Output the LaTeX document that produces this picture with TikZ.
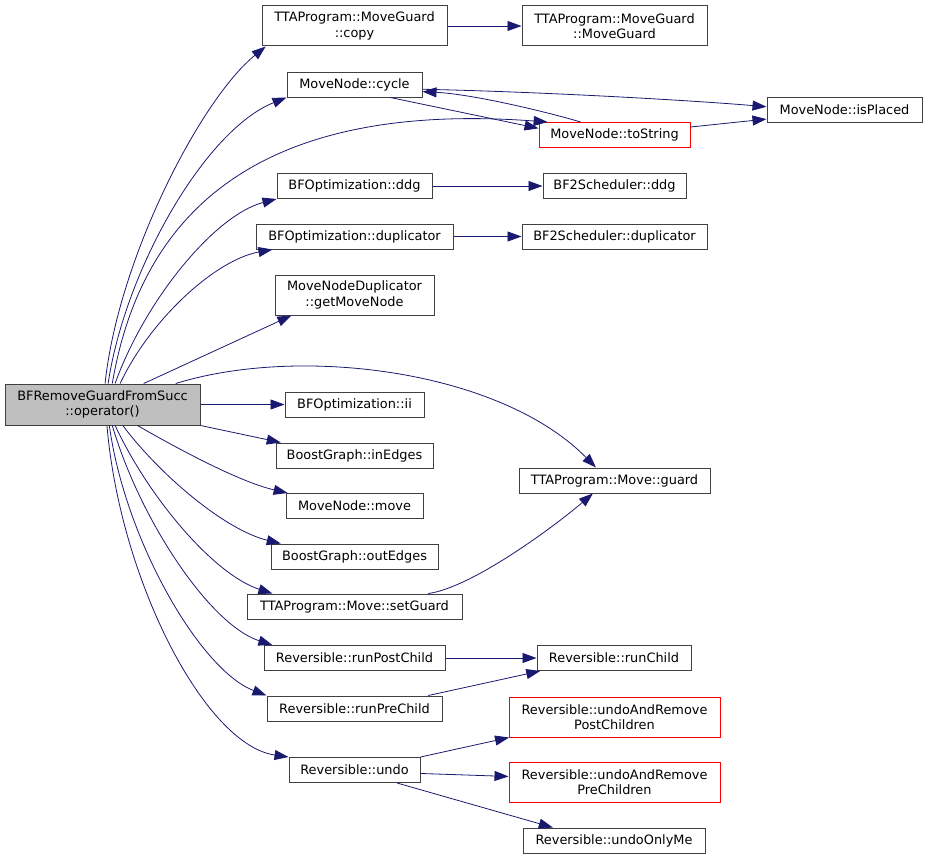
\documentclass[tikz,border=0pt]{standalone}
\usepackage{fontspec}
\setmainfont{DejaVu Sans}
\usetikzlibrary{arrows.meta}
\definecolor{callblue}{HTML}{191970}
\definecolor{boxline}{HTML}{404040}
\definecolor{boxred}{HTML}{FF0000}
\definecolor{boxfocus}{HTML}{BFBFBF}

\begin{document}
\begin{tikzpicture}[
  x=1pt,
  y=-1pt,
  every node/.style={font=\fontsize{12.9}{15.3}\selectfont, black},
  fn/.style={draw=boxline, fill=white, line width=1pt, inner sep=0pt,
             minimum height=25pt, align=center},
  fnred/.style={fn, draw=boxred},
  fnroot/.style={fn, fill=boxfocus},
  call/.style={callblue, line width=0.8pt, -{Triangle[length=14pt, width=10pt]}}
]
  \useasboundingbox (0,0) rectangle (928,859);

  % ---- caller ----
  \node[fnroot, minimum width=195pt, minimum height=41pt] (root) at (102.5,404.5)
    {BFRemoveGuardFromSucc\\::operator()};

  % ---- direct callees ----
  \node[fn, minimum width=185pt, minimum height=40pt] (copy) at (354.5,26)
    {TTAProgram::MoveGuard\\::copy};
  \node[fn, minimum width=135pt] (cycle) at (354.5,84.5) {MoveNode::cycle};
  \node[fn, minimum width=155pt] (bfddg) at (354.5,186) {BFOptimization::ddg};
  \node[fn, minimum width=197pt] (bfdup) at (354.5,236.5) {BFOptimization::duplicator};
  \node[fn, minimum width=159pt, minimum height=40pt] (getmn) at (354.5,295)
    {MoveNodeDuplicator\\::getMoveNode};
  \node[fn, minimum width=139pt] (ii) at (354.5,404.5) {BFOptimization::ii};
  \node[fn, minimum width=157pt] (inedges) at (354.5,455.5) {BoostGraph::inEdges};
  \node[fn, minimum width=137pt] (move) at (354.5,506) {MoveNode::move};
  \node[fn, minimum width=167pt] (outedges) at (354.5,556.5) {BoostGraph::outEdges};
  \node[fn, minimum width=215pt] (setguard) at (354.5,606.5) {TTAProgram::Move::setGuard};
  \node[fn, minimum width=181pt] (runpost) at (354.5,658) {Reversible::runPostChild};
  \node[fn, minimum width=175pt] (runpre) at (354.5,708.5) {Reversible::runPreChild};
  \node[fn, minimum width=131pt] (undo) at (354.5,770) {Reversible::undo};

  % ---- second rank ----
  \node[fn, minimum width=185pt, minimum height=40pt] (mgctor) at (614.5,26)
    {TTAProgram::MoveGuard\\::MoveGuard};
  \node[fnred, minimum width=151pt] (tostring) at (614.5,135) {MoveNode::toString};
  \node[fn, minimum width=143pt] (bf2ddg) at (614.5,186) {BF2Scheduler::ddg};
  \node[fn, minimum width=185pt] (bf2dup) at (614.5,236.5) {BF2Scheduler::duplicator};
  \node[fn, minimum width=191pt] (guard) at (614.5,480.5) {TTAProgram::Move::guard};
  \node[fn, minimum width=154pt] (runchild) at (614,658) {Reversible::runChild};
  \node[fnred, minimum width=211pt, minimum height=40pt] (undopost) at (614.5,717)
    {Reversible::undoAndRemove\\PostChildren};
  \node[fnred, minimum width=211pt, minimum height=40pt] (undopre) at (614.5,782)
    {Reversible::undoAndRemove\\PreChildren};
  \node[fn, minimum width=182pt] (undoonly) at (614,840.5) {Reversible::undoOnlyMe};

  % ---- third rank ----
  \node[fn, minimum width=155pt] (isplaced) at (844.5,109.5) {MoveNode::isPlaced};

  % ---- calls from the caller ----
  \draw[call] (root.83) .. controls (118,260) and (200,100) .. (copy.193);
  \draw[call] (root.75) .. controls (125,270) and (205,130) .. (cycle.south west);
  \draw[call] (root.65) .. controls (140,220) and (250,100) .. (tostring.169);
  \draw[call] (root.59) .. controls (145,300) and (215,215) .. (bfddg.south west);
  \draw[call] (root.50) .. controls (150,320) and (215,260) .. (bfdup.189);
  \draw[call] (root.27) -- (getmn.198);
  \draw[call] (root.16) .. controls (300,345) and (500,370) .. (guard.145);
  \draw[call] (root) -- (ii);
  \draw[call] (root.south east) -- (inedges.170);
  \draw[call] (root.-31) .. controls (180,450) and (240,482) .. (move.169);
  \draw[call] (root.-46) .. controls (160,475) and (225,530) .. (outedges.170);
  \draw[call] (root.-59) .. controls (150,500) and (215,575) .. (setguard.171);
  \draw[call] (root.-65) .. controls (140,520) and (210,625) .. (runpost.171);
  \draw[call] (root.-72) .. controls (125,540) and (200,670) .. (runpre.north west);
  \draw[call] (root.-78) .. controls (120,580) and (205,745) .. (undo.north west);

  % ---- further calls ----
  \draw[call] (copy) -- (mgctor);
  \draw[call] (cycle.-4) .. controls (550,92) and (700,101) .. (isplaced.178);
  \draw[call] (cycle.-20) -- (tostring.175);
  \draw[call] (tostring.159) .. controls (540,110) and (470,94) .. (cycle.-6);
  \draw[call] (tostring.6) -- (isplaced.187);
  \draw[call] (bfddg) -- (bf2ddg);
  \draw[call] (bfdup) -- (bf2dup);
  \draw[call] (setguard.10) .. controls (470,588) and (550,530) .. (guard.211);
  \draw[call] (runpost) -- (runchild);
  \draw[call] (runpre.10) -- (runchild.190);
  \draw[call] (undo.north east) -- (undopost.191);
  \draw[call] (undo.-3) -- (undopre.177);
  \draw[call] (undo.-17) -- (undoonly.168);
\end{tikzpicture}
\end{document}
